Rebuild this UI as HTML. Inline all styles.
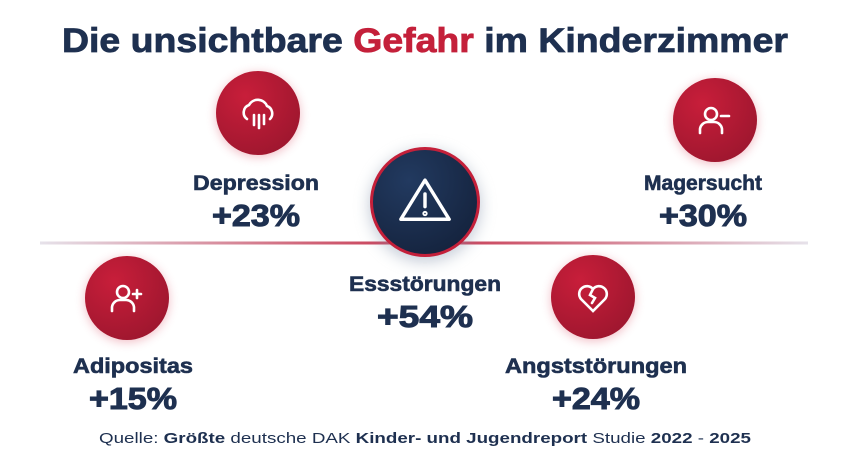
<!DOCTYPE html>
<html><head><meta charset="utf-8">
<style>
html,body{margin:0;padding:0;background:#fff;width:850px;height:454px;overflow:hidden}
svg{display:block;font-family:"Liberation Sans",sans-serif}
</style></head>
<body>
<svg id="chart" width="850" height="454" viewBox="0 0 850 454" xmlns="http://www.w3.org/2000/svg">
<defs>
<radialGradient id="rg" cx="35%" cy="30%" r="80%"><stop offset="0" stop-color="#c81e3a"/><stop offset="1" stop-color="#9c162e"/></radialGradient>
<radialGradient id="ng" cx="35%" cy="30%" r="80%"><stop offset="0" stop-color="#223a60"/><stop offset="1" stop-color="#14223c"/></radialGradient>
<linearGradient id="lg" x1="0" x2="1"><stop offset="0" stop-color="#e6e2ea"/><stop offset="0.35" stop-color="#d06478"/><stop offset="0.5" stop-color="#c8354f"/><stop offset="0.65" stop-color="#d06478"/><stop offset="1" stop-color="#e6e2ea"/></linearGradient>
<filter id="glow" x="-50%" y="-50%" width="200%" height="200%"><feGaussianBlur stdDeviation="5"/></filter>
<filter id="shadow" x="-50%" y="-50%" width="200%" height="200%"><feGaussianBlur stdDeviation="8"/></filter>
</defs>
<text x="425" y="52" text-anchor="middle" font-size="34" font-weight="bold" fill="#1e3050" stroke="#1e3050" stroke-width="0.8" textLength="726" lengthAdjust="spacingAndGlyphs">Die unsichtbare <tspan fill="#c4203a" stroke="#c4203a">Gefahr</tspan> im Kinderzimmer</text>
<rect x="40" y="241.5" width="768" height="3" fill="url(#lg)"/>
<g id="items"></g>
<text x="425" y="443" text-anchor="middle" font-size="15" fill="#1e3050" textLength="652" lengthAdjust="spacingAndGlyphs">Quelle: <tspan font-weight="bold">Größte</tspan> deutsche DAK <tspan font-weight="bold">Kinder- und Jugendreport</tspan> Studie <tspan font-weight="bold">2022</tspan> - <tspan font-weight="bold">2025</tspan></text>
</svg>
<script>
const categories = ["Depression","Magersucht","Essstörungen","Adipositas","Angststörungen"];
const values = [23,30,54,15,24];
const valueLabels = ["+23%","+30%","+54%","+15%","+24%"];
// layout (not data)
const layout = [
 {cx:258,cy:113,lx:256,ly:190,icon:"rain",w:126},
 {cx:715,cy:120,lx:703,ly:190,icon:"minus",w:118},
 {cx:425,cy:202,lx:425,ly:291,icon:"warn",w:152},
 {cx:127,cy:298,lx:133,ly:373,icon:"plus",w:120},
 {cx:593,cy:297,lx:596,ly:373,icon:"heart",w:182}
];
const NS="http://www.w3.org/2000/svg";
const g=document.getElementById('items');
function mk(tag,attrs,parent){const e=document.createElementNS(NS,tag);for(const k in attrs)e.setAttribute(k,attrs[k]);(parent||g).appendChild(e);return e;}
const icons={
 rain:'<path d="M-11 6 A8 8 0 0 1 -9 -8 A10 10 0 0 1 9 -7 A8 8 0 0 1 12 6" /><line x1="-4" y1="2" x2="-4" y2="12"/><line x1="1" y1="2" x2="1" y2="15"/><line x1="6" y1="2" x2="6" y2="11"/>',
 minus:'<circle cx="-4" cy="-6" r="6"/><path d="M-15 13 V9 A8 8 0 0 1 -7 2 H-1 A8 8 0 0 1 7 9 V13"/><line x1="6" y1="-4" x2="14" y2="-4"/>',
 plus:'<circle cx="-4" cy="-6" r="6"/><path d="M-15 13 V9 A8 8 0 0 1 -7 2 H-1 A8 8 0 0 1 7 9 V13"/><line x1="6" y1="-4" x2="14" y2="-4"/><line x1="10" y1="-8" x2="10" y2="0"/>',
 heart:'<path d="M0 14 L-12 2 A7 7 0 0 1 0 -8 A7 7 0 0 1 12 2 Z"/><path d="M0 -8 L-3 -2 L2 1 L-1 6"/>',
 warn:'<path d="M0 -19 L21 15 H-21 Z" stroke-linejoin="round"/><line x1="0" y1="-7" x2="0" y2="4"/><circle cx="0" cy="10" r="0.8"/>'
};
categories.forEach((c,i)=>{
 const L=layout[i];
 const grp=mk('g',{});
 
 
 const center=L.icon==='warn';
 const r=center?55:42;
 const glow=mk('circle',{cx:L.cx,cy:L.cy+(center?4:2),r:r,fill:center?'#8090a8':'#e06a7e',opacity:center?0.5:0.45,filter:center?'url(#shadow)':'url(#glow)'},grp);
 
 
 const circ=mk('circle',{cx:L.cx,cy:L.cy,r:center?r-1.5:r,fill:center?'url(#ng)':'url(#rg)',stroke:center?'#c4203a':'none','stroke-width':3},grp);
 
 
 const ic=mk('g',{transform:`translate(${L.cx},${L.cy}) scale(${center?1.15:1})`,fill:'none',stroke:'#fff','stroke-width':center?3:2.6,'stroke-linecap':'round'},grp);
 ic.innerHTML=icons[L.icon];
 
 
 const t=mk('text',{x:L.lx,y:L.ly,'text-anchor':'middle','font-size':21,'font-weight':'bold',fill:'#1e3050',stroke:'#1e3050','stroke-width':0.6,textLength:L.w,lengthAdjust:'spacingAndGlyphs'},grp);
 t.textContent=c;
 
 
 const v=mk('text',{x:L.lx,y:L.ly+36,'text-anchor':'middle','font-size':31,'font-weight':'bold',fill:'#1e3050',stroke:'#1e3050','stroke-width':1,textLength:center?96:88,lengthAdjust:'spacingAndGlyphs'},grp);
 v.textContent=valueLabels[i];
 
 
});
</script>
</body></html>
